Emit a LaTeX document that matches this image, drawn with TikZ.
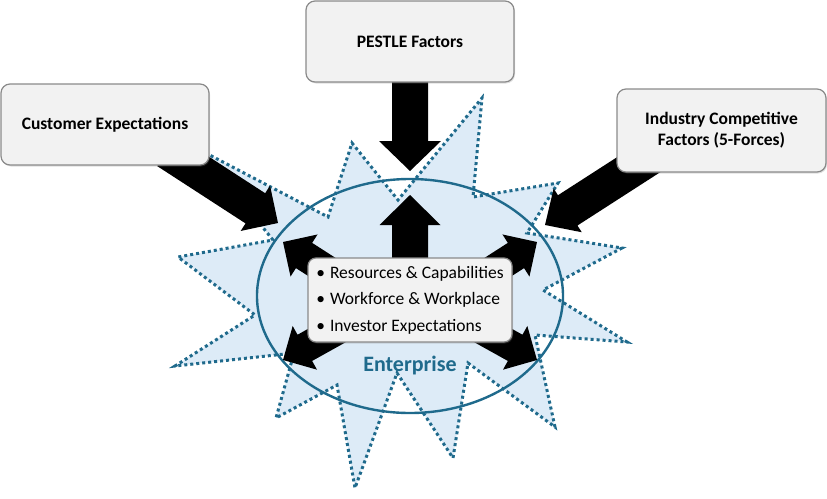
\documentclass[tikz,border=0pt]{standalone}
\usepackage{fontspec}
\setmainfont{Carlito}
\usetikzlibrary{calc,shadows}
\definecolor{teal1}{HTML}{1F6A8C}
\definecolor{starfill}{HTML}{DDEBF7}
\definecolor{boxfill}{HTML}{F2F2F2}
\definecolor{boxline}{HTML}{8A8A8A}
\newcommand\blkarrow[5]{% from, to, shaft half width, head half width, head length
  \coordinate (#2h) at ($(#2)!#5!(#1)$);
  \fill[black] ($(#1)!#3!90:(#2)$) -- ($(#2h)!#3!90:(#2)$) -- ($(#2h)!#4!90:(#2)$) -- (#2)
    -- ($(#2h)!#4!-90:(#2)$) -- ($(#2h)!#3!-90:(#2)$) -- ($(#1)!#3!-90:(#2)$) -- cycle;}
\tikzset{
  factorbox/.style={draw=boxline, line width=1.2pt, fill=boxfill, rounded corners=9pt,
    font=\fontsize{17.5}{21}\selectfont\bfseries, align=center, inner sep=0pt,
    drop shadow={shadow xshift=1pt, shadow yshift=-1.5pt, opacity=0.25}},
  starline/.style={draw=teal1, line width=3pt, dash pattern=on 3pt off 3pt, fill=starfill},
}
\begin{document}
\begin{tikzpicture}[x=1pt,y=-1pt]
\useasboundingbox (0,0) rectangle (827,498);
% star
\path[starline] (200,150) -- (328,217) -- (352,143) -- (398,200) -- (482,98) -- (473,197)
  -- (558,183) -- (527,233) -- (622,248) -- (543,290) -- (627,342) -- (535,335)
  -- (555,427) -- (468,363) -- (453,458) -- (397,373) -- (355,488) -- (337,385)
  -- (276,418) -- (294,353) -- (175,366) -- (255,315) -- (178,257) -- (273,240) -- cycle;
% enterprise ellipse
\draw[teal1, line width=2.4pt] (410,296) ellipse [x radius=153, y radius=117];
% inner arrow coordinates
\coordinate (upS) at (410,275);  \coordinate (upT) at (410,195);
\coordinate (ulS) at (350,285);  \coordinate (ulT) at (283,242);
\coordinate (llS) at (353,321);  \coordinate (llT) at (283,360);
\coordinate (urS) at (470,285);  \coordinate (urT) at (537,242);
\coordinate (lrS) at (467,321);  \coordinate (lrT) at (537,360);
\blkarrow{upS}{upT}{18pt}{30.5pt}{30pt}
\blkarrow{ulS}{ulT}{15pt}{25pt}{25pt}
\blkarrow{llS}{llT}{15pt}{25pt}{25pt}
\blkarrow{urS}{urT}{15pt}{25pt}{25pt}
\blkarrow{lrS}{lrT}{15pt}{25pt}{25pt}
% inner box
\node[draw=boxline, line width=1.2pt, fill=boxfill, rounded corners=8pt,
  minimum width=204pt, minimum height=84pt, align=left, inner sep=0pt,
  font=\fontsize{17.5}{26.5}\selectfont,
  drop shadow={shadow xshift=1pt, shadow yshift=-1.5pt, opacity=0.25}] (res) at (410,300)
  {\textbullet\hspace{5pt}Resources \& Capabilities\\
   \textbullet\hspace{5pt}Workforce \& Workplace\\
   \textbullet\hspace{5pt}Investor Expectations};
% outer arrow coordinates
\coordinate (peS) at (410,60);   \coordinate (peT) at (410,171);
\coordinate (cuS) at (167,151);  \coordinate (cuT) at (278,223);
\coordinate (inS) at (663,149);  \coordinate (inT) at (545,225);
\blkarrow{peS}{peT}{18pt}{31pt}{30pt}
\blkarrow{cuS}{cuT}{18pt}{27pt}{27pt}
\blkarrow{inS}{inT}{18pt}{26pt}{27pt}
% factor boxes
\node[factorbox, minimum width=208pt, minimum height=81pt] (pestle) at (410,41.5) {PESTLE Factors};
\node[factorbox, minimum width=208pt, minimum height=81pt] (cust) at (105,124.5) {Customer Expectations};
\node[factorbox, minimum width=209pt, minimum height=83pt] (ind) at (721.5,130.5) {Industry Competitive\\Factors (5-Forces)};
% label
\node[text=teal1, font=\fontsize{22}{26}\selectfont\bfseries] (ent) at (410,366) {Enterprise};
\end{tikzpicture}
\end{document}
